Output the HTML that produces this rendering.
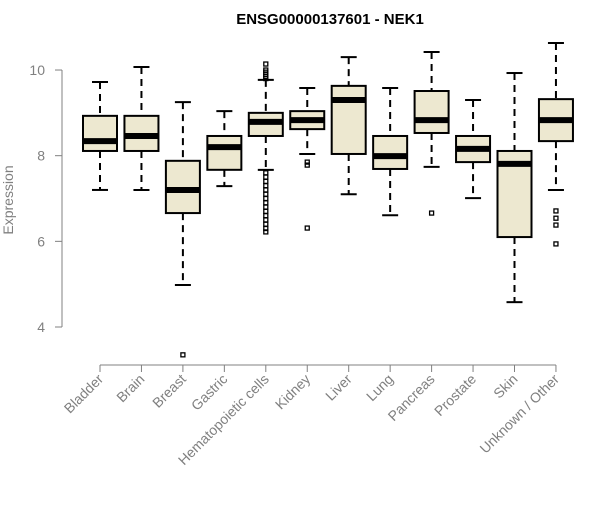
<!DOCTYPE html>
<html><head><meta charset="utf-8"><style>
body{margin:0;background:#fff;}
svg text{font-family:"Liberation Sans",sans-serif;}
</style></head><body>
<svg id="chart" width="600" height="500" xmlns="http://www.w3.org/2000/svg">
<text x="330" y="24" text-anchor="middle" font-weight="bold" font-size="15">ENSG00000137601 - NEK1</text>
<g id="yaxis"></g>
<g id="xaxis"></g>
<g id="boxes"></g>
<text transform="translate(13,200) rotate(-90)" text-anchor="middle" font-size="14" fill="#808080">Expression</text>
</svg>
<script>
const categories=["Bladder","Brain","Breast","Gastric","Hematopoietic cells","Kidney","Liver","Lung","Pancreas","Prostate","Skin","Unknown / Other"];
const whiskerLow=[7.2,7.2,4.98,7.29,7.67,8.04,7.1,6.61,7.74,7.01,4.58,7.2];
const q1=[8.11,8.11,6.66,7.67,8.46,8.62,8.04,7.69,8.53,7.85,6.1,8.34];
const medians=[8.34,8.46,7.2,8.2,8.79,8.83,9.3,7.99,8.83,8.16,7.81,8.83];
const q3=[8.93,8.93,7.88,8.46,9.0,9.04,9.63,8.46,9.51,8.46,8.11,9.32];
const whiskerHigh=[9.72,10.07,9.25,9.04,9.77,9.58,10.3,9.58,10.42,9.3,9.93,10.63];
const outliers=[[],[],[3.35],[],[10.14,10.0,9.95,9.9,9.85,9.8,7.6,7.5,7.4,7.3,7.2,7.1,7.0,6.9,6.8,6.7,6.6,6.5,6.4,6.3,6.22],[7.85,7.78,6.31],[],[],[6.66],[],[],[6.71,6.54,6.38,5.94]];
const yTicks=[4,6,8,10];
const NS="http://www.w3.org/2000/svg";
function y(v){return 327-(v-4)*42.83;}
function x(i){return 100+i*41.45;}
function mk(tag,attrs,parent){const e=document.createElementNS(NS,tag);for(const k in attrs)e.setAttribute(k,attrs[k]);parent.appendChild(e);return e;}
const ya=document.getElementById('yaxis'),xa=document.getElementById('xaxis'),bx=document.getElementById('boxes');
mk('line',{x1:62,x2:62,y1:y(10),y2:y(4),stroke:'#808080'},ya);
yTicks.forEach(t=>{
 const l=mk('line',{x1:55,x2:62,y1:y(t),y2:y(t),stroke:'#808080'},ya);
 
 
 const tx=mk('text',{x:45,y:y(t)+5,'text-anchor':'end','font-size':14,fill:'#808080'},ya);
 tx.textContent=t;
 
 
});
mk('line',{x1:x(0),x2:x(categories.length-1),y1:365,y2:365,stroke:'#808080'},xa);
categories.forEach((c,i)=>{
 const cx=x(i);
 const tk=mk('line',{x1:cx,x2:cx,y1:365,y2:372,stroke:'#808080'},xa);
 
 
 const tx=mk('text',{x:cx+4,y:380,'text-anchor':'end','font-size':14,fill:'#808080',transform:`rotate(-45 ${cx+4} 380)`},xa);
 tx.textContent=c;
 
 
 const g=mk('g',{},bx);
 
 
 const hw=17;
 mk('line',{x1:cx,x2:cx,y1:y(whiskerHigh[i]),y2:y(q3[i]),stroke:'#000','stroke-width':2,'stroke-dasharray':'7,5'},g);
 mk('line',{x1:cx,x2:cx,y1:y(q1[i]),y2:y(whiskerLow[i]),stroke:'#000','stroke-width':2,'stroke-dasharray':'7,5'},g);
 mk('line',{x1:cx-8,x2:cx+8,y1:y(whiskerHigh[i]),y2:y(whiskerHigh[i]),stroke:'#000','stroke-width':2},g);
 mk('line',{x1:cx-8,x2:cx+8,y1:y(whiskerLow[i]),y2:y(whiskerLow[i]),stroke:'#000','stroke-width':2},g);
 mk('rect',{x:cx-hw,y:y(q3[i]),width:hw*2,height:y(q1[i])-y(q3[i]),fill:'#ede8d0',stroke:'#000','stroke-width':2},g);
 mk('line',{x1:cx-hw,x2:cx+hw,y1:y(medians[i]),y2:y(medians[i]),stroke:'#000','stroke-width':6},g);
 outliers[i].forEach(o=>{
  const p=mk('rect',{x:cx-2,y:y(o)-2,width:4,height:4,fill:'none',stroke:'#000','stroke-width':1.3},g);
  
  
 });
});
</script>
</body></html>
